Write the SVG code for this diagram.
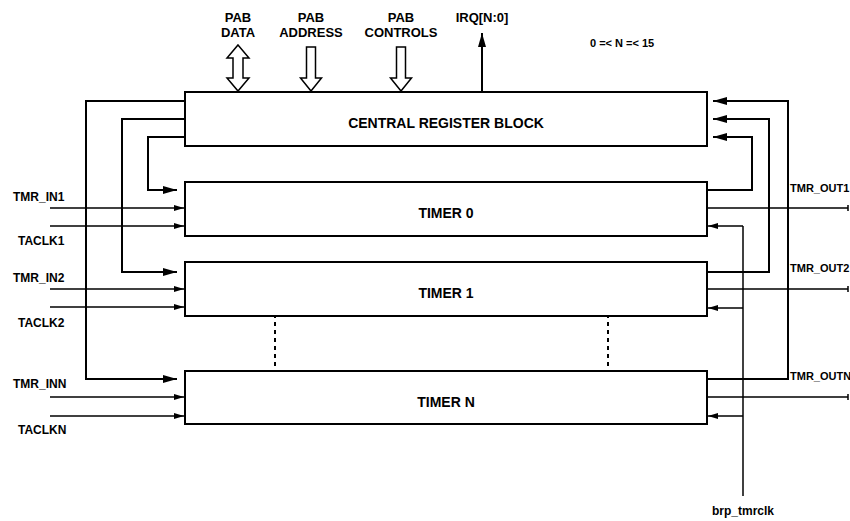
<svg xmlns="http://www.w3.org/2000/svg" width="850" height="521" viewBox="0 0 850 521">
<defs>
<marker id="big" markerWidth="14" markerHeight="8" refX="14" refY="4" orient="auto" markerUnits="userSpaceOnUse"><path d="M0,0 L14,4 L0,8 Z" fill="#000"/></marker>
<marker id="sm" markerWidth="10" markerHeight="6" refX="10" refY="3" orient="auto" markerUnits="userSpaceOnUse"><path d="M0,0 L10,3 L0,6 Z" fill="#000"/></marker>
</defs>
<style>
.blk{fill:#fff;stroke:#000;stroke-width:2}
.t{font-family:"Liberation Sans",Arial,sans-serif;font-weight:bold;fill:#000}
.c{text-anchor:middle}
.loop{fill:none;stroke:#000;stroke-width:2}
.in{fill:none;stroke:#000;stroke-width:1.5}
.hol{fill:#fff;stroke:#000;stroke-width:1.5}
.dash{stroke:#000;stroke-width:2;stroke-dasharray:4 4}
</style>
<g id="connectors">
<path class="loop" d="M185,101 H86 V379 H177" marker-end="url(#big)"/>
<path class="loop" d="M185,119 H122 V272 H177" marker-end="url(#big)"/>
<path class="loop" d="M185,137 H148 V190 H177" marker-end="url(#big)"/>
<path class="loop" d="M707,379 H788 V101 H713" marker-end="url(#big)"/>
<path class="loop" d="M707,272 H769 V119 H713" marker-end="url(#big)"/>
<path class="loop" d="M707,190 H752 V137 H713" marker-end="url(#big)"/>
<path class="in" d="M50,208 H184" marker-end="url(#sm)"/>
<path class="in" d="M50,226 H184" marker-end="url(#sm)"/>
<path class="in" d="M50,289 H184" marker-end="url(#sm)"/>
<path class="in" d="M50,307 H184" marker-end="url(#sm)"/>
<path class="in" d="M50,397 H184" marker-end="url(#sm)"/>
<path class="in" d="M50,416 H184" marker-end="url(#sm)"/>
<path class="in" d="M707,208 H848 M848,205 V211"/>
<path class="in" d="M707,289 H848 M848,286 V292"/>
<path class="in" d="M707,397 H848 M848,394 V400"/>
<path class="in" d="M743,496 V226"/>
<path class="in" d="M743,226 H708" marker-end="url(#sm)"/>
<path class="in" d="M743,308 H708" marker-end="url(#sm)"/>
<path class="in" d="M743,416 H708" marker-end="url(#sm)"/>
<path class="hol" d="M238,45 L249,58 L243,58 L243,78 L249,78 L238,91 L227,78 L233,78 L233,58 L227,58 Z"/>
<path class="hol" d="M306.5,47 L315.5,47 L315.5,78 L321.5,78 L311,91 L300.5,78 L306.5,78 Z"/>
<path class="hol" d="M396.5,47 L405.5,47 L405.5,78 L411.5,78 L401,91 L390.5,78 L396.5,78 Z"/>
<path class="loop" d="M482,92 V33" marker-end="url(#big)"/>
<line class="dash" x1="275" y1="298" x2="275" y2="368"/>
<line class="dash" x1="608" y1="298" x2="608" y2="368"/>
</g>
<g id="central">
<rect class="blk" x="185" y="92" width="522" height="54"/>
<text class="t c" x="446" y="128" font-size="14">CENTRAL REGISTER BLOCK</text>
</g>
<g id="timer0">
<rect class="blk" x="185" y="182" width="522" height="54"/>
<text class="t c" x="446" y="218" font-size="14">TIMER 0</text>
</g>
<g id="timer1">
<rect class="blk" x="185" y="262" width="522" height="54"/>
<text class="t c" x="446" y="298" font-size="14">TIMER 1</text>
</g>
<g id="timerN">
<rect class="blk" x="185" y="371" width="522" height="53"/>
<text class="t c" x="446" y="407" font-size="14">TIMER N</text>
</g>
<g id="labels">
<text class="t c" x="238" y="22" font-size="13">PAB</text>
<text class="t c" x="238" y="37" font-size="13">DATA</text>
<text class="t c" x="311" y="22" font-size="13">PAB</text>
<text class="t c" x="311" y="37" font-size="13">ADDRESS</text>
<text class="t c" x="401" y="22" font-size="13">PAB</text>
<text class="t c" x="401" y="37" font-size="13">CONTROLS</text>
<text class="t c" x="482" y="22" font-size="13">IRQ[N:0]</text>
<text class="t" x="590" y="47" font-size="11">0 =&lt; N =&lt; 15</text>
<text class="t" x="13" y="201" font-size="12">TMR_IN1</text>
<text class="t" x="18" y="245" font-size="12">TACLK1</text>
<text class="t" x="13" y="282" font-size="12">TMR_IN2</text>
<text class="t" x="18" y="327" font-size="12">TACLK2</text>
<text class="t" x="13" y="388" font-size="12">TMR_INN</text>
<text class="t" x="18" y="434" font-size="12">TACLKN</text>
<text class="t" x="790" y="192" font-size="11">TMR_OUT1</text>
<text class="t" x="790" y="272" font-size="11">TMR_OUT2</text>
<text class="t" x="790" y="380" font-size="11">TMR_OUTN</text>
<text class="t c" x="743" y="515" font-size="12">brp_tmrclk</text>
</g>
</svg>
